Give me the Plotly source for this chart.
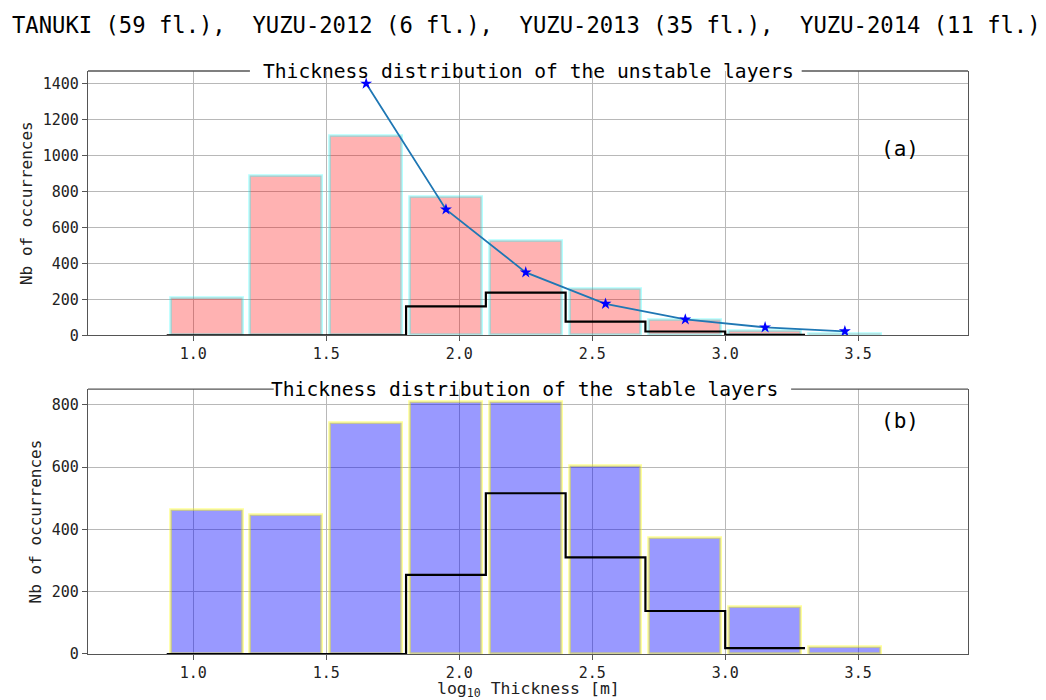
import plotly.graph_objects as go
from plotly.subplots import make_subplots

# ---- data ----
bin_centers = [1.05, 1.35, 1.65, 1.95, 2.25, 2.55, 2.85, 3.15, 3.45]
unstable_counts = [210, 887, 1107, 770, 524, 259, 85, 26, 5]
stable_counts = [462, 446, 742, 810, 810, 604, 371, 151, 22]

step_edges = [0.9, 1.2, 1.5, 1.8, 2.1, 2.4, 2.7, 3.0, 3.3]
unstable_subset = [0, 0, 0, 161, 237, 76, 21, 3]
stable_subset = [0, 0, 0, 254, 516, 310, 138, 19]

curve_x = [1.65, 1.95, 2.25, 2.55, 2.85, 3.15, 3.45]
curve_y = [1400, 700, 350, 175, 88, 44, 22]

x_ticks = [1.0, 1.5, 2.0, 2.5, 3.0, 3.5]
top_yticks = [0, 200, 400, 600, 800, 1000, 1200, 1400]
bot_yticks = [0, 200, 400, 600, 800]

suptitle = "TANUKI (59 fl.),  YUZU-2012 (6 fl.),  YUZU-2013 (35 fl.),  YUZU-2014 (11 fl.)"
title_a = "Thickness distribution of the unstable layers"
title_b = "Thickness distribution of the stable layers"

FONT = "DejaVu Sans Mono"
SPINE = "#555555"
GRID = "#b8b8b8"

fig = make_subplots(rows=2, cols=1, vertical_spacing=0.0)

fig.add_trace(go.Bar(x=bin_centers, y=unstable_counts, width=0.27,
                     marker=dict(color="rgba(255,0,0,0.3)",
                                 line=dict(color="rgba(0,255,255,0.3)", width=2.8)),
                     showlegend=False), row=1, col=1)
fig.add_trace(go.Scatter(x=step_edges, y=unstable_subset + [unstable_subset[-1]],
                         mode="lines", line=dict(color="black", width=2.2, shape="hv"),
                         showlegend=False), row=1, col=1)
fig.add_trace(go.Scatter(x=curve_x, y=curve_y, mode="lines+markers",
                         line=dict(color="#1f77b4", width=1.8),
                         marker=dict(symbol="star", size=9, color="blue"),
                         showlegend=False), row=1, col=1)

fig.add_trace(go.Bar(x=bin_centers, y=stable_counts, width=0.27,
                     marker=dict(color="rgba(0,0,255,0.4)",
                                 line=dict(color="rgba(255,255,0,0.4)", width=2.8)),
                     showlegend=False), row=2, col=1)
fig.add_trace(go.Scatter(x=step_edges, y=stable_subset + [stable_subset[-1]],
                         mode="lines", line=dict(color="black", width=2.2, shape="hv"),
                         showlegend=False), row=2, col=1)

axis_common = dict(showline=True, linecolor=SPINE, linewidth=1.3,
                   showgrid=True, gridcolor=GRID, gridwidth=1,
                   ticks="outside", ticklen=5, tickcolor=SPINE, tickwidth=1,
                   zeroline=False,
                   tickfont=dict(family=FONT, size=15, color="#222222"))

fig.update_xaxes(range=[0.604, 3.913], tickvals=x_ticks, tickformat=".1f",
                 mirror=False, **axis_common)
fig.update_yaxes(mirror=True, **axis_common)

fig.update_layout(
    xaxis=dict(domain=[0, 1]),
    yaxis=dict(domain=[0.5467, 1.0], range=[0, 1470], tickvals=top_yticks,
               title=dict(text="Nb of occurrences", font=dict(family=FONT, size=16, color="#222222"), standoff=6)),
    xaxis2=dict(domain=[0, 1]),
    yaxis2=dict(domain=[0.0, 0.4545], range=[0, 850.5], tickvals=bot_yticks,
                title=dict(text="Nb of occurrences", font=dict(family=FONT, size=16, color="#222222"), standoff=6)),
    width=1038, height=692,
    margin=dict(l=80, r=78, t=63, b=46),
    plot_bgcolor="white", paper_bgcolor="white",
    bargap=0,
    font=dict(family=FONT, color="#222222"),
)

# top spines with gap for the subplot titles (bottom spine is the x axis line)
def top_spine(xref, yref, gap0, gap1):
    for a, b in [(0, gap0), (gap1, 1)]:
        fig.add_shape(type="line", xref=xref, yref=yref, x0=a, x1=b, y0=1, y1=1,
                      line=dict(color=SPINE, width=1.3), layer="above")

top_spine("x domain", "y domain", 0.184, 0.811)
top_spine("x2 domain", "y2 domain", 0.211, 0.799)

fig.add_annotation(text=title_a, xref="x domain", yref="y domain", x=0.5, y=1.0,
                   xanchor="center", yanchor="middle", showarrow=False,
                   font=dict(family=FONT, size=19.6, color="black"))
fig.add_annotation(text=title_b, xref="x2 domain", yref="y2 domain", x=0.4955, y=1.0,
                   xanchor="center", yanchor="middle", showarrow=False,
                   font=dict(family=FONT, size=19.6, color="black"))

fig.add_annotation(text="(a)", xref="x domain", yref="y domain", x=0.923, y=0.704,
                   xanchor="center", yanchor="middle", showarrow=False,
                   font=dict(family=FONT, size=21, color="black"))
fig.add_annotation(text="(b)", xref="x2 domain", yref="y2 domain", x=0.923, y=0.880,
                   xanchor="center", yanchor="middle", showarrow=False,
                   font=dict(family=FONT, size=21, color="black"))

fig.add_annotation(text=suptitle, xref="paper", yref="paper", x=-0.0886, y=1.079,
                   xanchor="left", yanchor="middle", showarrow=False,
                   font=dict(family=FONT, size=22.2, color="black"))

fig.add_annotation(text="log<sub>10</sub> Thickness [m]", xref="paper", yref="paper",
                   x=0.5, y=-0.061, xanchor="center", yanchor="middle", showarrow=False,
                   font=dict(family=FONT, size=16.5, color="#222222"))

fig.write_html("out.html")
